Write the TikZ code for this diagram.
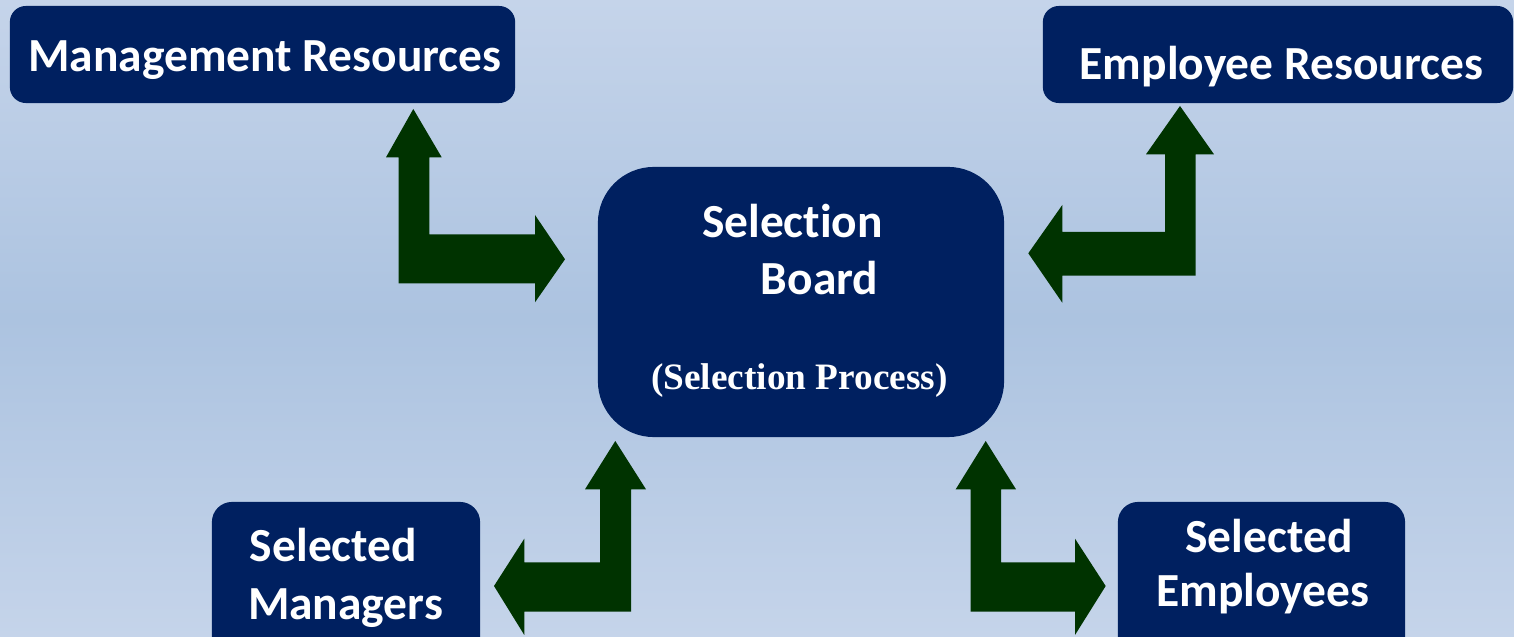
\documentclass[tikz,border=0pt]{standalone}
\usepackage{fontspec}
\setmainfont{Carlito}[Ligatures=NoCommon]
\newfontfamily\procfont{Liberation Serif}
\definecolor{navy}{RGB}{0,32,96}
\definecolor{darkgreen}{RGB}{0,51,0}
\definecolor{bgtop}{RGB}{197,212,234}
\definecolor{bgmid}{RGB}{172,195,224}
\tikzset{
	box/.style={fill=navy, draw=none, inner sep=0pt, outer sep=0pt, rounded corners=0.16cm},
	label/.style={text=white, font=\fontsize{13.5pt}{16pt}\selectfont\bfseries, anchor=base, inner sep=0pt},
	bentarrow/.style={fill=darkgreen, draw=none}
}
\begin{document}
\begin{tikzpicture}[x=0.01cm, y=-0.01cm, line join=miter]
				\useasboundingbox (0,0) rectangle (1514,637);
				\shade[top color=bgtop, bottom color=bgtop, middle color=bgmid] (0,0) rectangle (1514,637);
				\clip (0,0) rectangle (1514,637);
				\node[box, minimum width=5.05cm, minimum height=0.97cm] (mgmt) at (262.5,54.5) {};
				\node[box, minimum width=4.70cm, minimum height=0.97cm] (empl) at (1278,54.5) {};
				\node[box, minimum width=4.06cm, minimum height=2.70cm, rounded corners=0.56cm] (board) at (801,302) {};
				\node[box, minimum width=2.68cm, minimum height=1.56cm, rounded corners=0.2cm] (selm) at (346,580) {};
				\node[box, minimum width=2.87cm, minimum height=1.56cm, rounded corners=0.2cm] (sele) at (1261.5,580) {};
				\node[label] (mgmttext) at (265,72) {Management Resources};
				\node[label] (empltext) at (1281.5,80) {Employee Resources};
				\node[label] (boardtext1) at (792.5,238) {Selection};
				\node[label] (boardtext2) at (819.5,295) {Board};
				\node[label, font=\fontsize{10.6pt}{12pt}\selectfont\procfont\bfseries] (boardtext3) at (799.5,390) {(Selection Process)};
				\node[label] (selmtext1) at (333.5,562) {Selected};
				\node[label] (selmtext2) at (345.5,620) {Managers};
				\node[label] (seletext1) at (1269,553) {Selected};
				\node[label] (seletext2) at (1263,607) {Employees};
				\fill[bentarrow] (413.3,109)--(441.7,157.3)--(429.3,157.3)--(429.3,234.3)--(535,234.3)--(535,215)--(565,259.3)--(535,302.3)--(535,283.3)--(398.7,283.3)--(398.7,157.3)--(386,157.3)--cycle;
				\fill[bentarrow] (1180,106)--(1214,154.3)--(1195.7,154.3)--(1195.7,275.7)--(1062.3,275.7)--(1062.3,302.7)--(1028.3,253.3)--(1062.3,205)--(1062.3,232)--(1165,232)--(1165,154.3)--(1146,154.3)--cycle;
				\fill[bentarrow] (615.3,441)--(646,489.3)--(631,489.3)--(631,611.7)--(524.3,611.7)--(524.3,635)--(494,586)--(524.3,538.7)--(524.3,562.3)--(600,562.3)--(600,489.3)--(585,489.3)--cycle;
				\fill[bentarrow] (985.7,441)--(1016,489.3)--(1001,489.3)--(1001,562.3)--(1075,562.3)--(1075,538.7)--(1105.7,586)--(1075,635)--(1075,611.7)--(970.7,611.7)--(970.7,489.3)--(955.7,489.3)--cycle;
			\end{tikzpicture}
\end{document}
